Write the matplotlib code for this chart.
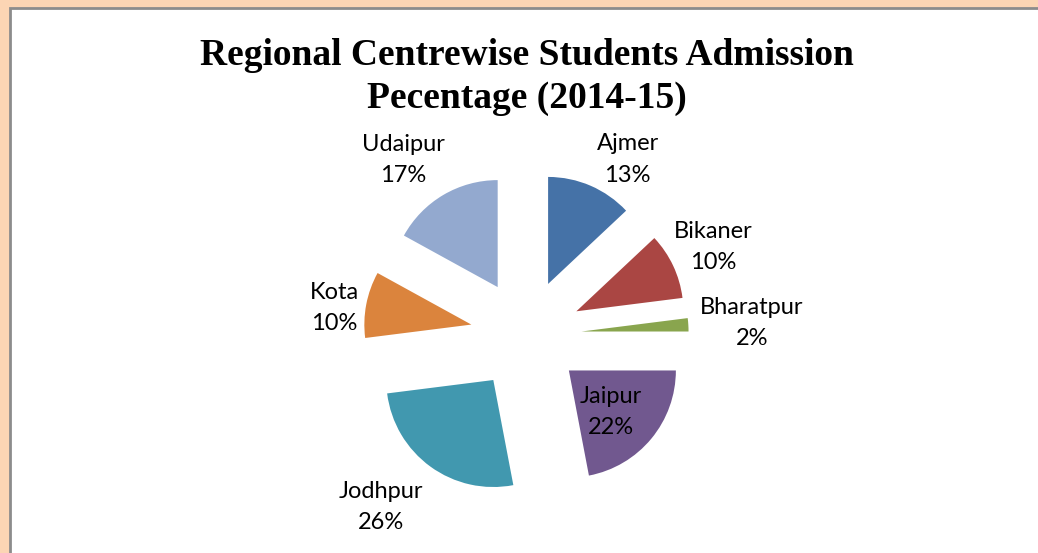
import numpy as np
import matplotlib
matplotlib.use('Agg')
import matplotlib.pyplot as plt
import matplotlib.patches as mpatches

centres = ['Ajmer', 'Bikaner', 'Bharatpur', 'Jaipur', 'Jodhpur', 'Kota', 'Udaipur']
shares = [13, 10, 2, 22, 26, 10, 17]
colors = ['#4572A7', '#AA4643', '#89A54E', '#71588F', '#4198AF', '#DB843D', '#93A9CF']
# label placement: radial distance and small angular nudge (deg, clockwise)
label_dist = [1.895, 1.936, 2.115, 1.072, 2.10, 1.812, 2.0]
label_nudge = [6.7, 0, 0.6, 2.6, 4.1, -2.8, -4.5]

W, H = 1038, 553
fig = plt.figure(figsize=(W / 100, H / 100), dpi=100, facecolor='#FCD5B4')

# white chart panel with grey edge
fig.patches.append(mpatches.Rectangle((9.5 / W, -0.05), 1.1, 1 - 8 / H + 0.05,
                                      transform=fig.transFigure, fc='white',
                                      ec='#8C8C8C', lw=2.0, zorder=-5))

fig.text(527 / W, 1 - 55 / H, 'Regional Centrewise Students Admission',
         ha='center', va='center', fontsize=27, fontweight='bold',
         family='Liberation Serif')
fig.text(527 / W, 1 - 98 / H, 'Pecentage (2014-15)',
         ha='center', va='center', fontsize=27, fontweight='bold',
         family='Liberation Serif')

cx, cy, r = 526, 335, 107
ax = fig.add_axes([(cx - 2 * r) / W, (H - cy - 2 * r) / H, 4 * r / W, 4 * r / H])
ax.set_zorder(2)
ax.set_facecolor('none')
wedges, _ = ax.pie(shares, colors=colors, startangle=90, counterclock=False,
                   explode=[0.52] * len(shares), radius=1,
                   wedgeprops=dict(linewidth=0))
ax.set_xlim(-2, 2)
ax.set_ylim(-2, 2)
ax.set_aspect('equal')
ax.axis('off')

for w, name, val, d, nudge in zip(wedges, centres, shares, label_dist, label_nudge):
    mid = np.deg2rad((w.theta1 + w.theta2) / 2 - nudge)
    ax.text(d * np.cos(mid), d * np.sin(mid), f'{name}\n{val}%',
            ha='center', va='center', fontsize=17, family='Lato',
            linespacing=1.62, clip_on=False)

fig.savefig('out.png', dpi=100, facecolor=fig.get_facecolor())
